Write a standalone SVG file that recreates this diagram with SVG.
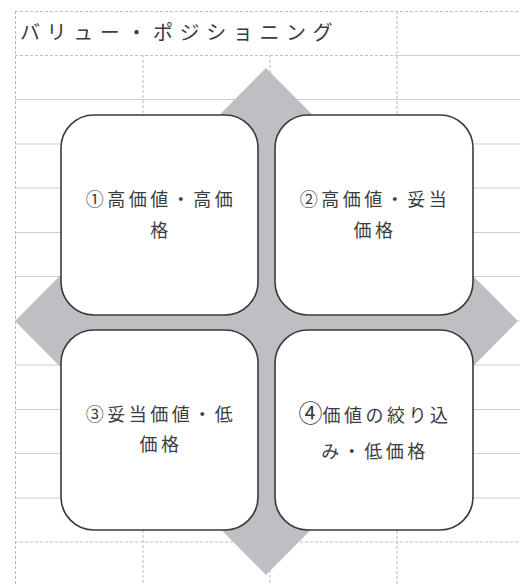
<svg xmlns="http://www.w3.org/2000/svg" width="520" height="584" viewBox="0 0 520 584">
  <style>
    .hg { stroke: #cfcfcf; stroke-width: 1; fill: none; }
    .hd { stroke: #c0c0c0; stroke-width: 1; stroke-dasharray: 3 2; fill: none; }
    .vg { stroke: #b8b8b8; stroke-width: 1; stroke-dasharray: 3 2; fill: none; }
    .box { fill: #ffffff; stroke: #3a3a3a; stroke-width: 1.6; }
    .lbl { font-family: "Noto Sans CJK JP", "Noto Sans", sans-serif; font-size: 18px; fill: #3c3c3c; letter-spacing: 3.5px; text-anchor: middle; }
    .title { font-family: "Noto Sans CJK JP", "Noto Sans", sans-serif; font-size: 20px; fill: #3c3c3c; letter-spacing: 6.6px; }
  </style>
  <rect width="520" height="584" fill="#ffffff"/>
  <g id="grid">
    <line class="hd" x1="15" y1="11.5" x2="520" y2="11.5"/>
    <line class="hd" x1="15" y1="55.5" x2="397" y2="55.5"/>
    <line class="hg" x1="397" y1="55.5" x2="520" y2="55.5"/>
    <line class="hg" x1="15" y1="99.5" x2="520" y2="99.5"/>
    <line class="hg" x1="15" y1="144" x2="520" y2="144"/>
    <line class="hg" x1="15" y1="188" x2="520" y2="188"/>
    <line class="hg" x1="15" y1="232.5" x2="520" y2="232.5"/>
    <line class="hg" x1="15" y1="276.5" x2="520" y2="276.5"/>
    <line class="hg" x1="15" y1="321" x2="520" y2="321"/>
    <line class="hg" x1="15" y1="365" x2="520" y2="365"/>
    <line class="hg" x1="15" y1="409.5" x2="520" y2="409.5"/>
    <line class="hg" x1="15" y1="453.5" x2="520" y2="453.5"/>
    <line class="hg" x1="15" y1="498" x2="520" y2="498"/>
    <line class="hd" x1="15" y1="542" x2="520" y2="542"/>
    <line class="vg" x1="15.5" y1="11" x2="15.5" y2="584"/>
    <line class="vg" x1="143" y1="55" x2="143" y2="584"/>
    <line class="vg" x1="270" y1="55" x2="270" y2="584"/>
    <line class="vg" x1="397" y1="11" x2="397" y2="584"/>
  </g>
  <g id="title">
    <text class="title" x="20" y="40">バリュー・ポジショニング</text>
  </g>
  <g id="diamond">
    <polygon points="266,68 518,321 266,575 15,321" fill="#bfbfc3"/>
  </g>
  <g id="box1">
    <rect class="box" x="61" y="115" width="197" height="200" rx="33" ry="33"/>
    <text class="lbl" x="161" y="206">①高価値・高価</text>
    <text class="lbl" x="161" y="237">格</text>
  </g>
  <g id="box2">
    <rect class="box" x="275" y="115" width="198" height="200" rx="33" ry="33"/>
    <text class="lbl" x="375" y="206">②高価値・妥当</text>
    <text class="lbl" x="375" y="237">価格</text>
  </g>
  <g id="box3">
    <rect class="box" x="61" y="330" width="197" height="200" rx="33" ry="33"/>
    <text class="lbl" x="161" y="421">③妥当価値・低</text>
    <text class="lbl" x="161" y="451">価格</text>
  </g>
  <g id="box4">
    <rect class="box" x="275" y="330" width="198" height="200" rx="33" ry="33"/>
    <text class="lbl" x="375" y="422"><tspan font-size="24px" letter-spacing="0">④</tspan>価値の絞り込</text>
    <text class="lbl" x="375" y="458">み・低価格</text>
  </g>
</svg>
